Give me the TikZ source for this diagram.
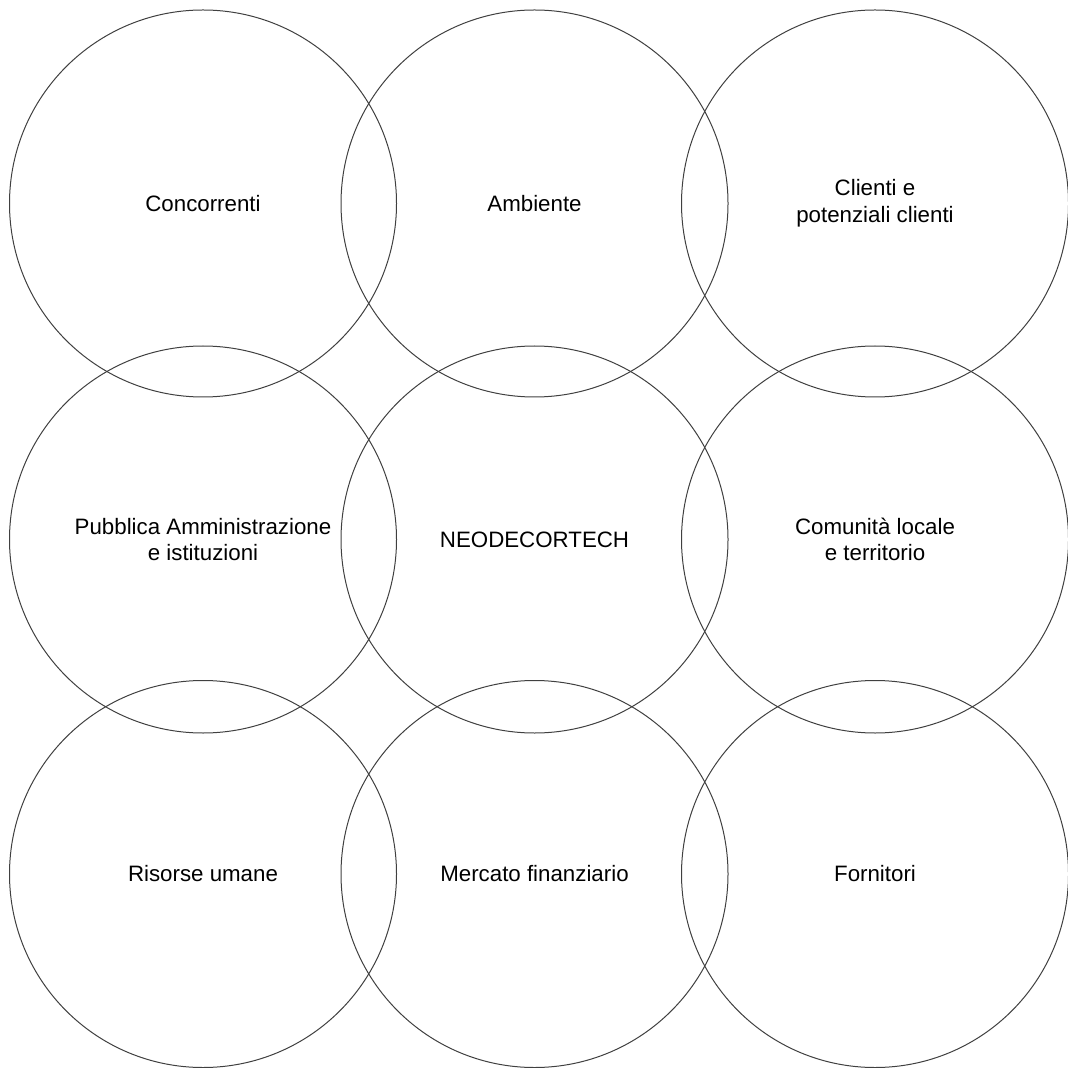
\documentclass[tikz,border=0pt]{standalone}
\usepackage{fontspec}
\setmainfont{Liberation Sans}
\usepackage{tikz}
\tikzset{stake/.style={draw=black!75, line width=0.5pt, circle, minimum size=193.5pt, inner sep=0pt, align=center, font=\fontsize{11.15}{13.35}\selectfont}}
\begin{document}
\begin{tikzpicture}[x=0.5pt,y=-0.5pt]
\useasboundingbox (0,0) rectangle (1067,1068);
\foreach \x/\y/\nm/\lbl in {203/203.5/conc/Concorrenti, 534.5/203.5/amb/Ambiente, 875/203.5/clienti/{Clienti e\\potenziali clienti},
203/539.5/pa/{Pubblica Amministrazione\\e istituzioni}, 534.5/539.5/neo/NEODECORTECH, 875/539.5/comunita/{Comunità locale\\e territorio},
203/874/risorse/Risorse umane, 534.5/874/mercato/Mercato finanziario, 875/874/fornitori/Fornitori}{
\node[stake] (\nm) at (\x,\y) {\lbl};
}
\end{tikzpicture}
\end{document}
